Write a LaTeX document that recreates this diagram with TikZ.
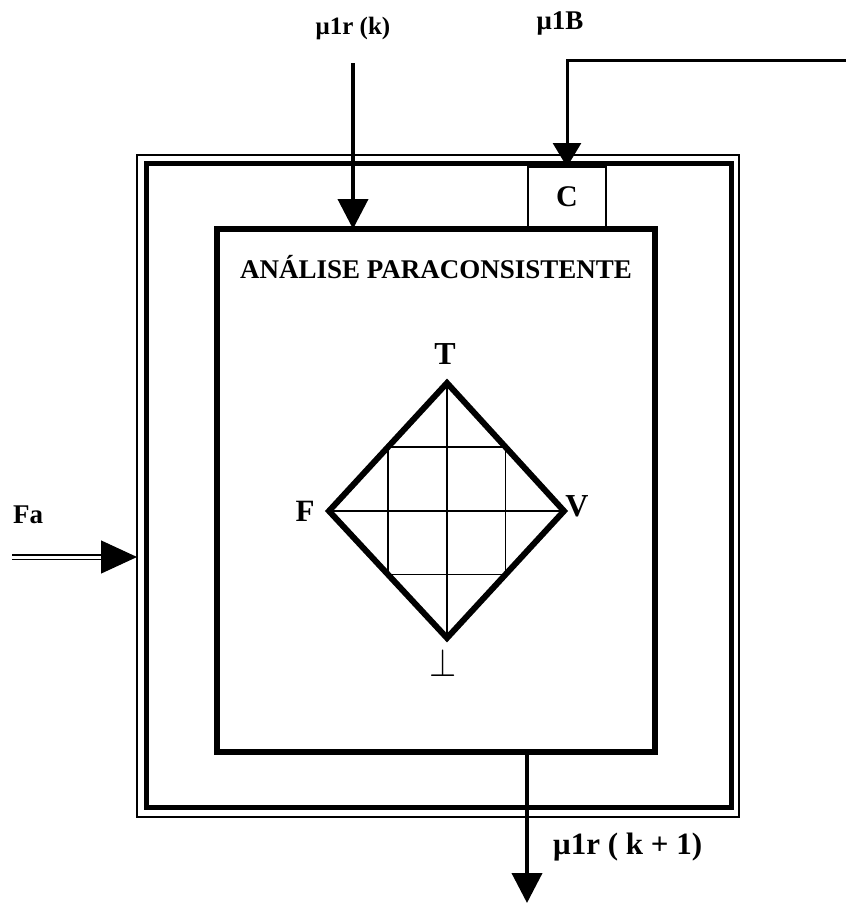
\documentclass[tikz,border=0pt]{standalone}
\usepackage{fontspec}
\setmainfont{Liberation Serif}
\usetikzlibrary{arrows.meta,calc}

\newcommand{\bsize}[1]{\bfseries\fontsize{#1}{#1}\selectfont}

\begin{document}
\begin{tikzpicture}[x=1pt,y=-1pt,
    frame/.style={draw, inner sep=0pt, outer sep=0pt},
    txt/.style={inner sep=0pt, font=\bsize{27}},
    feed/.style={line width=4pt, -{Triangle[length=30pt,width=30pt]}}]
\useasboundingbox (0,0) rectangle (846,905);

% outer double frame and the inner block
\node[frame, line width=1.8pt, minimum width=602pt, minimum height=662pt] (rim) at (438,486) {};
\node[frame, line width=5pt, minimum width=585pt, minimum height=644pt] (wall) at (438.5,485) {};
\node[frame, line width=6pt, minimum width=438pt, minimum height=523pt] (core) at (436,490.5) {};
\node[frame, line width=1.5pt, fill=white, minimum width=78pt, minimum height=60pt, font=\bsize{30}] (ctrl) at (567,197) {C};

\node[txt, font=\bsize{27}] (title) at (436,267) {ANÁLISE PARACONSISTENTE};

% lattice
\coordinate (top) at (447,383);
\coordinate (fal) at (329,511);
\coordinate (ver) at (564,511);
\coordinate (bot) at (447,638);
\draw[line width=1.5pt] (top) -- (bot) (fal) -- (ver);
\draw[line width=1.5pt] ($(top)!.5!(fal)$) -- ($(top)!.5!(ver)$) -- ($(bot)!.5!(ver)$) -- ($(bot)!.5!(fal)$) -- cycle;
\draw[line width=6pt] (top) -- (ver) -- (bot) -- (fal) -- cycle;

\node[txt, font=\bsize{32}] (lt) at (445,354) {T};
\node[txt, font=\bsize{31}] (lf) at (305,511) {F};
\node[txt, font=\bsize{32}] (lv) at (577,506) {V};
\node[txt, font=\fontsize{24}{24}\selectfont] (lb) at (443,663) {\scalebox{1.4}[1.6]{$\bot$}};

% inputs
\node[txt, font=\bsize{25}] (mur) at (353,28) {μ1r (k)};
\coordinate (inStart) at (353,63);
\draw[feed] (inStart) -- (inStart |- core.north);

\node[txt] (mub) at (560,23) {μ1B};
\coordinate (bStart) at (846,60);
\draw[line width=3pt, -{Triangle[length=24pt,width=28pt]}] (bStart) -| (ctrl.north);

\node[txt, font=\bsize{27}] (fa) at (28,515) {Fa};
\coordinate (faStart) at (12,557);
\draw[double, double distance=3pt, line width=1.2pt, -{Triangle[length=36pt,width=33pt]}] (faStart) -- (faStart -| rim.west);

% output
\coordinate (outEnd) at (527,903);
\draw[feed] (core.south -| outEnd) -- (outEnd);
\node[txt, font=\bsize{31}, anchor=west] (muo) at (553,847) {μ1r ( k + 1)};
\end{tikzpicture}
\end{document}
